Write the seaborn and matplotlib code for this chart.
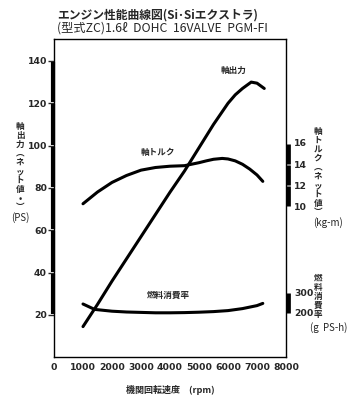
import matplotlib
matplotlib.use("Agg")
import matplotlib.pyplot as plt
import matplotlib.transforms as mtransforms
import numpy as np
import pandas as pd
import seaborn as sns

# Engine performance data (Si / Si Extra, ZC 1.6L DOHC)
power_rpm = [1000, 1500, 2000, 2500, 3000, 3500, 4000, 4500, 5000, 5500, 6000, 6250, 6500, 6800, 7000, 7250]
power_ps = [14.5, 25, 36, 46.5, 57, 67.5, 78, 88, 99, 110, 120, 124, 127, 130, 129.5, 127]

torque_rpm = [1000, 1500, 2000, 2500, 3000, 3500, 4000, 4500, 5000, 5250, 5500, 5800, 6000, 6250, 6500, 6750, 7000, 7200]
torque_kgm = [10.3, 11.4, 12.3, 12.95, 13.45, 13.7, 13.82, 13.87, 14.15, 14.32, 14.47, 14.55, 14.5, 14.32, 14.0, 13.55, 13.0, 12.4]

fuel_rpm = [1000, 1400, 2000, 2500, 3000, 3500, 4000, 4500, 5000, 5500, 6000, 6500, 7000, 7200]
fuel_gpsh = [245, 218, 209, 205, 203, 201, 201, 202, 204, 207, 212, 222, 237, 248]

rpm_ticks = [0, 1000, 2000, 3000, 4000, 5000, 6000, 7000, 8000]
power_ticks = [20, 40, 60, 80, 100, 120, 140]
torque_ticks = [10, 12, 14, 16]
fuel_ticks = [200, 300]

title1 = "エンジン性能曲線図(Si･Siエクストラ)"
title2 = "(型式ZC)1.6ℓ  DOHC  16VALVE  PGM-FI"

sns.set_style("white")
FAM = ["Noto Sans CJK JP", "DejaVu Sans"]
plt.rcParams["font.family"] = FAM

W, H = 350, 408
fig = plt.figure(figsize=(W / 100, H / 100), dpi=100)

L, R, T, B = 54, 286, 38.5, 357.3
ax = fig.add_axes([L / W, 1 - B / H, (R - L) / W, (B - T) / H])
ax_t = ax.twinx()
ax_f = ax.twinx()
for a in (ax_t, ax_f):
    a.set_position(ax.get_position())

LW = 2.2
df_p = pd.DataFrame({"rpm": power_rpm, "ps": power_ps})
df_t = pd.DataFrame({"rpm": torque_rpm, "kgm": torque_kgm})
df_f = pd.DataFrame({"rpm": fuel_rpm, "g": fuel_gpsh})
sns.lineplot(data=df_p, x="rpm", y="ps", ax=ax, color="black", lw=LW)
sns.lineplot(data=df_t, x="rpm", y="kgm", ax=ax_t, color="black", lw=LW)
sns.lineplot(data=df_f, x="rpm", y="g", ax=ax_f, color="black", lw=LW)

ax.set_xlim(0, 8000)
ax.set_ylim(0, 150.6)
ax_t.set_ylim(-4.09, 25.79)
ax_f.set_ylim(-21.5, 1572.5)

for a in (ax, ax_t, ax_f):
    a.set_xlabel("")
    a.set_ylabel("")

# frame
for s in ax.spines.values():
    s.set_color("black")
    s.set_linewidth(1.0)
for a in (ax_t, ax_f):
    for s in a.spines.values():
        s.set_visible(False)

TICKFONT = dict(fontsize=6.7, fontweight="bold", family=["DejaVu Sans"])
ax.set_xticks(rpm_ticks)
ax.set_xticklabels([str(v) for v in rpm_ticks], **TICKFONT)
ax.tick_params(axis="x", length=0, pad=4)
ax.set_yticks(power_ticks)
ax.set_yticklabels([str(v) for v in power_ticks], **TICKFONT)
ax.tick_params(axis="y", direction="out", length=4, width=1, pad=1, left=True)

ax_t.set_yticks(torque_ticks)
ax_t.set_yticklabels([str(v) for v in torque_ticks], **TICKFONT)
ax_t.tick_params(axis="y", length=0, pad=6, right=True)
ax_f.set_yticks(fuel_ticks)
ax_f.set_yticklabels([str(v) for v in fuel_ticks], **TICKFONT)
ax_f.tick_params(axis="y", length=0, pad=6, right=True)

# thick scale bars along the axes
trL = mtransforms.blended_transform_factory(ax.transAxes, ax.transData)
for lo, hi in zip(power_ticks[:-1], power_ticks[1:]):
    ax.plot([-0.006, -0.006], [lo + 0.5, hi - 0.5], transform=trL, color="black",
            lw=3.0, solid_capstyle="butt", clip_on=False)
trT = mtransforms.blended_transform_factory(ax_t.transAxes, ax_t.transData)
for lo, hi in zip(torque_ticks[:-1], torque_ticks[1:]):
    ax_t.plot([1.009, 1.009], [lo + 0.06, hi - 0.06], transform=trT, color="black",
              lw=3.4, solid_capstyle="butt", clip_on=False)
trF = mtransforms.blended_transform_factory(ax_f.transAxes, ax_f.transData)
ax_f.plot([1.009, 1.009], [fuel_ticks[0], fuel_ticks[1]], transform=trF, color="black",
          lw=3.4, solid_capstyle="butt", clip_on=False)


def ftext(x, y, s, **kw):
    kw.setdefault("family", FAM)
    fig.text(x / W, 1 - y / H, s, **kw)


ftext(57, 15, title1, fontsize=8.5, fontweight="bold", ha="left", va="center")
ftext(57, 28, title2, fontsize=8.8, ha="left", va="center")

# left axis label (vertical writing)
ftext(20, 167, "\n".join("軸出力︵ネット値•︶"), fontsize=6.2, fontweight="bold",
      ha="center", va="center", linespacing=1.0)
ftext(20, 218, "(PS)", fontsize=7, ha="center", va="center")

# right axis labels
ftext(318, 172, "\n".join("軸トルク︵ネット値︶"), fontsize=6.2, fontweight="bold",
      ha="center", va="center", linespacing=1.0)
ftext(328, 223, "(kg-m)", fontsize=7, ha="center", va="center")
ftext(318, 296, "\n".join("燃料消費率"), fontsize=6.2, fontweight="bold",
      ha="center", va="center", linespacing=1.0)
ftext(329, 328, "(g  PS-h)", fontsize=7, ha="center", va="center")

# curve names
ftext(234, 70, "軸出力", fontsize=6.2, fontweight="bold", ha="center", va="center")
ftext(158, 152, "軸トルク", fontsize=6.2, fontweight="bold", ha="center", va="center")
ftext(168, 295, "燃料消費率", fontsize=6.2, fontweight="bold", ha="center", va="center")

# x axis title
ftext(170, 390, "機関回転速度　(rpm)", fontsize=6.5, fontweight="bold", ha="center", va="center")

fig.savefig("out.png", dpi=100, facecolor="white")
